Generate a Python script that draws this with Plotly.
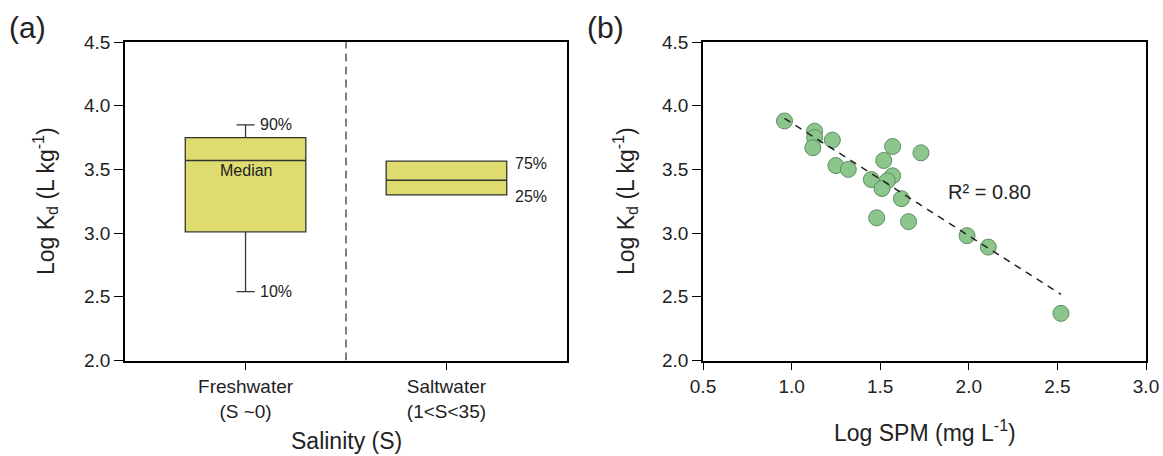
import numpy as np
import plotly.graph_objects as go

# ---------------- Panel (a): box summary by salinity ----------------
categories = ["Freshwater<br>(S ~0)", "Saltwater<br>(1&lt;S&lt;35)"]
cat_pos = [0, 1]
q1 = [3.01, 3.30]
median = [3.57, 3.415]
q3 = [3.75, 3.565]
p10 = [2.54, 3.30]
p90 = [3.85, 3.565]

# ---------------- Panel (b): Log Kd vs Log SPM ----------------
log_spm = [0.96, 1.13, 1.13, 1.12, 1.23, 1.25, 1.32, 1.57, 1.52, 1.73,
           1.57, 1.45, 1.54, 1.51, 1.62, 1.48, 1.66, 1.99, 2.11, 2.52]
log_kd = [3.88, 3.80, 3.75, 3.67, 3.73, 3.53, 3.50, 3.68, 3.57, 3.63,
          3.45, 3.42, 3.41, 3.35, 3.27, 3.12, 3.09, 2.98, 2.89, 2.37]
r2_label = "R² = 0.80"

y_ticks = [2.0, 2.5, 3.0, 3.5, 4.0, 4.5]
x_ticks_b = [0.5, 1.0, 1.5, 2.0, 2.5, 3.0]

FONT = "Arial, Liberation Sans, Helvetica, sans-serif"
W, H = 1163, 456

fig = go.Figure()

fig.add_trace(go.Box(
    x=cat_pos, q1=q1, median=median, q3=q3, lowerfence=p10, upperfence=p90,
    width=0.6, whiskerwidth=0.15, boxpoints=False,
    fillcolor="#DEDC6E", line=dict(color="#333333", width=1.3),
    xaxis="x", yaxis="y", showlegend=False, hoverinfo="skip"))

fig.add_trace(go.Scatter(
    x=log_spm, y=log_kd, mode="markers",
    marker=dict(size=16, color="#8CC68C", line=dict(color="#5E8E5F", width=1)),
    xaxis="x2", yaxis="y2", showlegend=False))

coef = np.polyfit(log_spm, log_kd, 1)
xs = np.array([min(log_spm), max(log_spm)])
fig.add_trace(go.Scatter(
    x=xs, y=np.polyval(coef, xs), mode="lines",
    line=dict(color="#222222", width=1.5, dash="7px,6px"),
    xaxis="x2", yaxis="y2", showlegend=False))

# separator between salinity classes
mid = (cat_pos[0] + cat_pos[1]) / 2
fig.add_shape(type="line", xref="x", yref="y", x0=mid, x1=mid,
              y0=y_ticks[0], y1=y_ticks[-1],
              line=dict(color="#555555", width=1.5, dash="8px,5px"))

axis_common = dict(showline=True, linecolor="black", linewidth=1.5, mirror=True,
                   showgrid=False, zeroline=False, ticks="outside", automargin=False,
                   tickcolor="black", tickwidth=1.3,
                   tickfont=dict(family=FONT, size=19, color="#222222"))

ydom = [1 - 360.5 / H, 1 - 42 / H]
fig.update_layout(
    template="none",
    width=W, height=H, margin=dict(l=0, r=0, t=0, b=0, pad=0),
    paper_bgcolor="white", plot_bgcolor="white",
    font=dict(family=FONT, color="#222222"),
    xaxis=dict(domain=[125 / W, 567 / W], range=[-0.6, 1.6], tickvals=cat_pos,
               ticktext=categories, ticklen=8, anchor="y", **axis_common),
    yaxis=dict(domain=ydom, range=[2.0, 4.5], tickvals=y_ticks, tickformat=".1f",
               ticklen=9, anchor="x", **axis_common),
    xaxis2=dict(domain=[703 / W, 1146 / W], range=[0.5, 3.0], tickvals=x_ticks_b,
                tickformat=".1f", ticklen=8, anchor="y2", **axis_common),
    yaxis2=dict(domain=ydom, range=[2.0, 4.5], tickvals=y_ticks, tickformat=".1f",
                ticklen=9, anchor="x2", **axis_common),
)

ann_font = dict(family=FONT, size=16, color="#222222")
annotations = [
    dict(x=0.06, y=p90[0], xref="x", yref="y", text="90%", showarrow=False,
         xanchor="left", yanchor="middle", font=ann_font),
    dict(x=0.06, y=p10[0], xref="x", yref="y", text="10%", showarrow=False,
         xanchor="left", yanchor="middle", font=ann_font),
    dict(x=cat_pos[0], y=median[0], xref="x", yref="y", text="Median", showarrow=False,
         xanchor="center", yanchor="top", font=ann_font),
    dict(x=1.33, y=q3[1], xref="x", yref="y", text="75%", showarrow=False,
         xanchor="left", yanchor="middle", yshift=-2, font=ann_font),
    dict(x=1.33, y=q1[1], xref="x", yref="y", text="25%", showarrow=False,
         xanchor="left", yanchor="middle", yshift=-2, font=ann_font),
    dict(x=2.114, y=3.32, xref="x2", yref="y2", text=r2_label, showarrow=False,
         xanchor="center", yanchor="middle", font=dict(family=FONT, size=20, color="#222222")),
    # axis titles
    dict(x=45 / W, y=1 - 201 / H, xref="paper", yref="paper",
         text="Log K<sub>d</sub> (L kg<sup>-1</sup>)", textangle=-90, showarrow=False,
         xanchor="center", yanchor="middle", font=dict(family=FONT, size=23, color="#222222")),
    dict(x=625 / W, y=1 - 201 / H, xref="paper", yref="paper",
         text="Log K<sub>d</sub> (L kg<sup>-1</sup>)", textangle=-90, showarrow=False,
         xanchor="center", yanchor="middle", font=dict(family=FONT, size=23, color="#222222")),
    dict(x=346 / W, y=1 - 441 / H, xref="paper", yref="paper", text="Salinity (S)",
         showarrow=False, xanchor="center", yanchor="middle",
         font=dict(family=FONT, size=23, color="#222222")),
    dict(x=925 / W, y=1 - 431 / H, xref="paper", yref="paper",
         text="Log SPM (mg L<sup>-1</sup>)", showarrow=False, xanchor="center",
         yanchor="middle", font=dict(family=FONT, size=23, color="#222222")),
    # panel labels
    dict(x=27 / W, y=1 - 28 / H, xref="paper", yref="paper", text="(a)", showarrow=False,
         xanchor="center", yanchor="middle", font=dict(family=FONT, size=30, color="#222222")),
    dict(x=605 / W, y=1 - 28 / H, xref="paper", yref="paper", text="(b)", showarrow=False,
         xanchor="center", yanchor="middle", font=dict(family=FONT, size=30, color="#222222")),
]
fig.update_layout(annotations=annotations)

fig.write_html("out.html")
